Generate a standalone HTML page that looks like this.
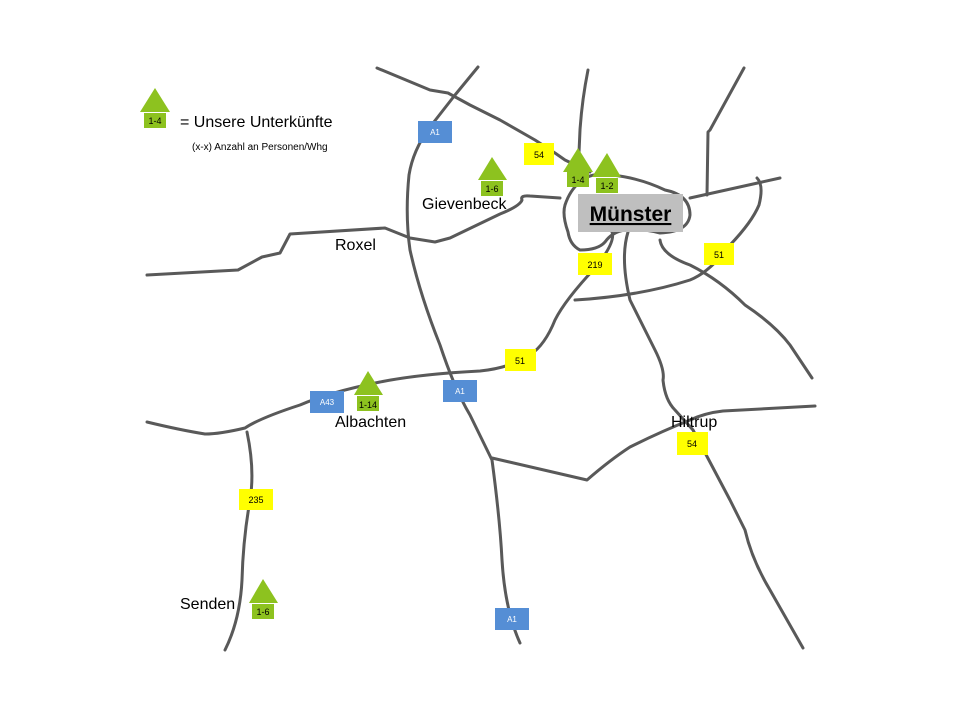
<!DOCTYPE html>
<html><head><meta charset="utf-8"><style>
body{margin:0;background:#fff}
svg{display:block}
text{font-family:"Liberation Sans","DejaVu Sans",sans-serif}
</style></head><body>
<svg width="960" height="720" viewBox="0 0 960 720" xmlns="http://www.w3.org/2000/svg">
<g fill="none" stroke="#595959" stroke-width="3" stroke-linejoin="round" stroke-linecap="round">
<!-- top-left road to Münster -->
<polyline points="377,68 430,90 448,93 470,105 500,120 535,140 555,153 565,160 590,172"/>
<!-- A1 -->
<path d="M478,67 L455,95 L430,127 Q413,150 409,175 Q405,215 410,250 Q420,295 440,345 Q455,390 470,415 L492,460 Q500,520 502,560 Q505,610 520,643"/>
<!-- Roxel / Gievenbeck road -->
<path d="M147,275 L238,270 L262,257 L280,253 L290,234 L385,228 L410,238 L435,242 L450,238 L500,214 Q520,206 522,200 Q520,195 530,196 L560,198"/>
<!-- Münster ring -->
<path d="M580,182 Q590,172 612,175 Q640,178 665,190 Q690,195 690,215 Q688,232 660,233 Q640,228 625,230 Q612,232 605,242 Q598,250 580,250 Q570,245 568,232 Q562,215 565,205 Q570,190 580,182 Z"/>
<!-- top north road -->
<path d="M588,70 Q582,100 580,130 L578,175"/>
<!-- NE roads -->
<polyline points="744,68 710,130 708,132 707,195"/>
<polyline points="690,198 780,178"/>
<path d="M757,178 Q764,185 759,205 Q752,222 730,245 Q710,272 690,280 Q640,296 575,300"/>
<path d="M660,240 Q662,255 690,265 Q720,280 745,305 Q775,325 790,345 L812,378"/>
<!-- Hiltrup road -->
<path d="M628,232 Q620,258 630,300 Q645,330 655,350 Q665,370 663,380 Q665,400 675,410 L693,430 L730,500 L745,530 Q752,560 770,590 L803,648"/>
<path d="M815,406 L723,411 Q705,413 690,420 Q660,432 630,447 Q610,460 587,480 L492,458"/>
<!-- 219 / 51 / A43 road -->
<path d="M612,232 Q616,242 595,268 Q565,300 555,320 Q545,345 530,355 Q510,368 480,371 Q420,374 380,382 Q330,392 300,405 Q260,418 245,428 Q220,434 205,434 Q180,430 147,422"/>
<!-- Senden road -->
<path d="M247,432 Q255,470 250,500 Q243,540 242,580 Q240,620 225,650"/>
</g>
<!-- Münster label -->
<rect x="578" y="194" width="105" height="38" fill="#bfbfbf"/>
<text x="630.5" y="221" text-anchor="middle" font-size="21" font-weight="bold" text-decoration="underline" fill="#000">Münster</text>
<!-- town labels -->
<g font-size="16" fill="#000">
<text x="422" y="209">Gievenbeck</text>
<text x="335" y="250">Roxel</text>
<text x="335" y="427">Albachten</text>
<text x="671" y="427">Hiltrup</text>
<text x="180" y="609">Senden</text>
<text x="180" y="127">= Unsere Unterkünfte</text>
</g>
<text x="192" y="150" font-size="10" fill="#000">(x-x) Anzahl an Personen/Whg</text>
<!-- yellow signs -->
<g fill="#ffff00">
<rect x="524" y="143" width="30" height="22"/>
<rect x="578" y="253" width="34" height="22"/>
<rect x="704" y="243" width="30" height="22"/>
<rect x="505" y="349" width="31" height="22"/>
<rect x="677" y="432" width="31" height="23"/>
<rect x="239" y="489" width="34" height="21"/>
</g>
<g font-size="9" fill="#000" text-anchor="middle">
<text x="539" y="158">54</text>
<text x="595" y="268">219</text>
<text x="719" y="258">51</text>
<text x="520" y="364">51</text>
<text x="692" y="447">54</text>
<text x="256" y="503">235</text>
</g>
<!-- blue signs -->
<g fill="#558ed5">
<rect x="418" y="121" width="34" height="22"/>
<rect x="310" y="391" width="34" height="22"/>
<rect x="443" y="380" width="34" height="22"/>
<rect x="495" y="608" width="34" height="22"/>
</g>
<g font-size="8" fill="#fff" text-anchor="middle">
<text x="435" y="135">A1</text>
<text x="327" y="405">A43</text>
<text x="460" y="394">A1</text>
<text x="512" y="622">A1</text>
</g>
<!-- green markers -->
<g fill="#8dc21f">
<polygon points="155,88 140,112 170,112"/><rect x="144" y="113" width="22" height="15"/>
<polygon points="492,157 478,180 507,180"/><rect x="481" y="181" width="22" height="15"/>
<polygon points="578,148 563,172 593,172"/><rect x="567" y="172" width="22" height="15"/>
<polygon points="607,153 592,177 621,177"/><rect x="596" y="178" width="22" height="15"/>
<polygon points="368,371 354,395 383,395"/><rect x="357" y="396" width="22" height="15"/>
<polygon points="263,579 249,603 278,603"/><rect x="252" y="604" width="22" height="15"/>
</g>
<g font-size="9" fill="#000" text-anchor="middle">
<text x="155" y="124">1-4</text>
<text x="492" y="192">1-6</text>
<text x="578" y="183">1-4</text>
<text x="607" y="189">1-2</text>
<text x="368" y="408">1-14</text>
<text x="263" y="615">1-6</text>
</g>
</svg>
</body></html>
